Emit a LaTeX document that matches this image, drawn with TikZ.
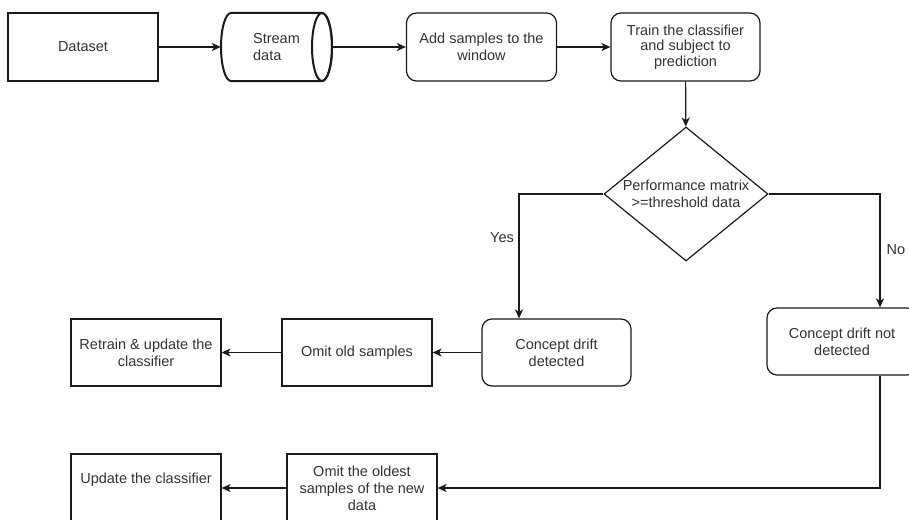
\documentclass[tikz,border=0pt]{standalone}
\usepackage{fontspec}
\setmainfont{Liberation Sans}
\usetikzlibrary{arrows.meta,shapes.geometric,calc}
\definecolor{txtc}{HTML}{333333}
\definecolor{linec}{HTML}{1A1A1A}
\begin{document}
\begin{tikzpicture}[x=1pt,y=1pt,
  every node/.style={text=txtc, font={\fontsize{14.5}{17}\selectfont}},
  box/.style={draw=linec, line width=1.2pt, rectangle, minimum width=150, minimum height=68, align=center, inner sep=2pt},
  rbox/.style={box, rounded corners=10pt},
  arr/.style={draw=linec, line width=1.2pt, -{Stealth[length=9pt,width=8pt,inset=2.5pt]}},
  cyl/.style={draw=linec, line width=2pt},
  lbl/.style={inner sep=0pt}
]
\clip (0,0) rectangle (909,-519);
\fill[white] (0,0) rectangle (909,-519);

% top row
\node[box] (dataset) at (83,-47) {Dataset};
\draw[cyl, line join=round] (231,-13) arc[start angle=90,end angle=270,x radius=10pt,y radius=34pt] -- (322,-81)
  arc[start angle=-90,end angle=90,x radius=10pt,y radius=34pt] -- cycle;
\draw[cyl] (322,-47) ellipse[x radius=10pt,y radius=34pt];
\node[minimum width=111, minimum height=68, inner sep=0pt, align=left] (stream) at (276.5,-47) {Stream\\data};
\node[rbox] (add) at (481.5,-47) {Add samples to the\\window};
\node[rbox, minimum width=149, font={\fontsize{14.5}{15.5}\selectfont}] (train) at (685.5,-47) {Train the classifier\\and subject to\\prediction};

% decision
\node[diamond, draw=linec, line width=1.2pt, inner sep=0pt, minimum width=164, minimum height=134,
  label={[align=center, inner sep=0pt]center:Performance matrix\\>=threshold data}] (dec) at (686,-194) {};

% branches
\node[rbox, minimum width=149, minimum height=67] (cdd) at (556.5,-352.5) {Concept drift\\detected};
\node[rbox, minimum height=67] (cdn) at (842,-341.5) {Concept drift not\\detected};
\node[box, minimum height=67] (omitold) at (357,-352.5) {Omit old samples};
\node[box, minimum height=67] (retrain) at (146,-352.5) {Retrain \& update the\\classifier};
\node[box] (oldest) at (362,-488) {Omit the oldest\\samples of the new\\data};
\node[box, text depth=19pt] (update) at (146,-488) {Update the classifier};

\node[lbl] (yes) at (502,-238) {Yes};
\node[lbl] (no) at (896,-250) {No};

\coordinate (ycorner) at (519,-194);
\coordinate (ncorner) at (880,-194);
\coordinate (ncorner2) at (880,-488);

% connectors
\draw[arr] (dataset) -- (stream);
\draw[arr] (stream) -- (add);
\draw[arr] (add) -- (train);
\draw[arr] (train) -- (dec);
\draw[arr] (dec.west) -- (ycorner) -- (ycorner |- cdd.north);
\draw[arr] (dec.east) -- (ncorner) -- (ncorner |- cdn.north);
\draw[arr] (cdd) -- (omitold);
\draw[arr] (omitold) -- (retrain);
\draw[arr] (ncorner |- cdn.south) -- (ncorner2) -- (oldest.east);
\draw[arr] (oldest) -- (update);
\end{tikzpicture}
\end{document}
